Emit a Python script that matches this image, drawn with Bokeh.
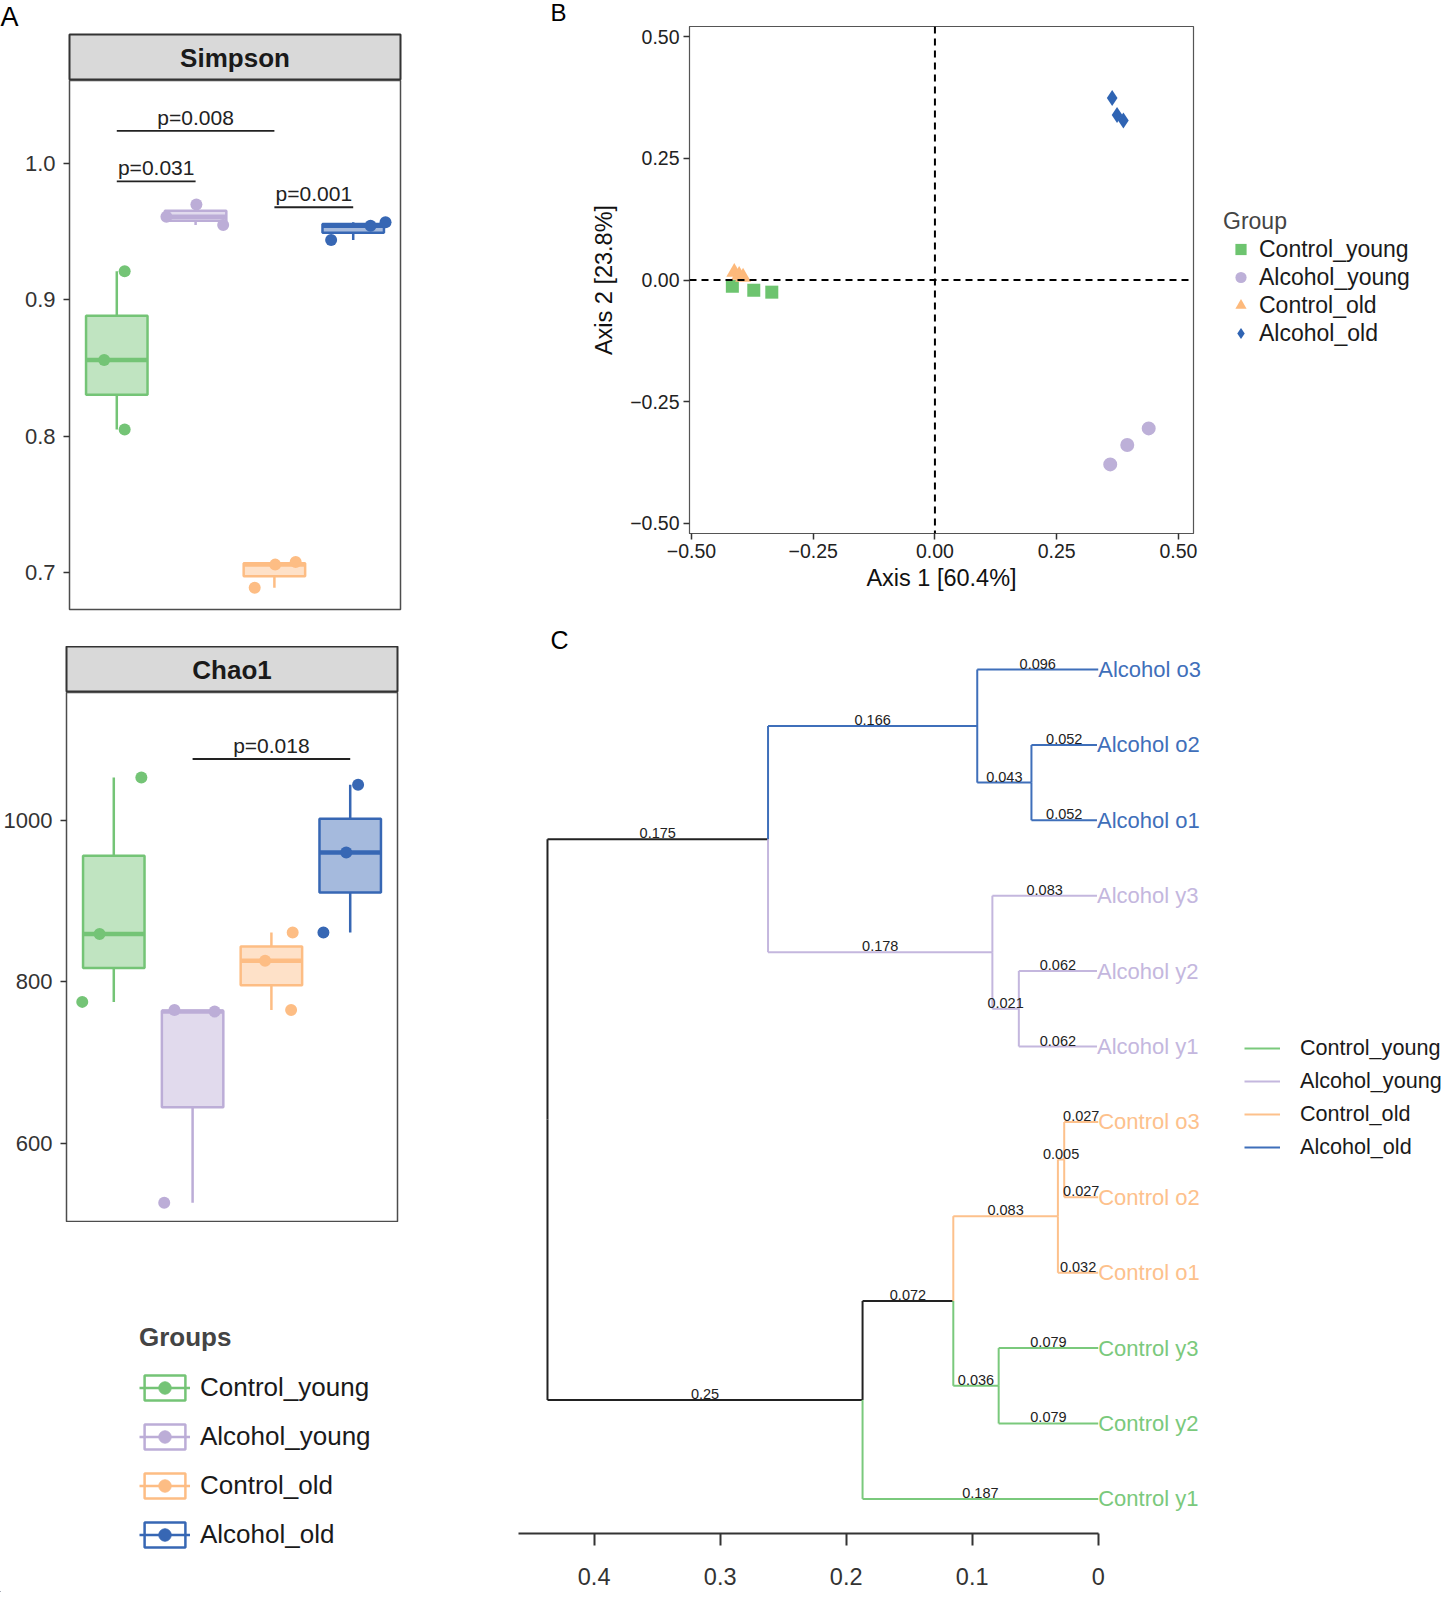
import numpy as np
from bokeh.plotting import figure
from bokeh.layouts import column, row
from bokeh.models import (Range1d, FixedTicker, Span, Label, Legend, LegendItem,
                          ColumnDataSource, Title)
from bokeh.core.properties import value
from bokeh.embed import file_html
from bokeh.resources import INLINE

# ---------------- data ----------------
groups = ["Control_young", "Alcohol_young", "Control_old", "Alcohol_old"]
box_colors = ["#74C476", "#BCADD7", "#FDBD84", "#3767B4"]
pcoa_colors = ["#6DC46F", "#BDB0D8", "#FDB97B", "#2F64B3"]
tree_colors = ["#7AC97C", "#C4B7DE", "#FDC18C", "#3F6FBA"]

simpson_values = [[0.921, 0.856, 0.805], [0.970, 0.961, 0.955],
                  [0.706, 0.708, 0.689], [0.9545, 0.957, 0.944]]
simpson_jitter = [[0.10, -0.16, 0.10], [0.01, -0.37, 0.35],
                  [0.01, 0.27, -0.25], [0.22, 0.41, -0.28]]
simpson_ticks = [0.7, 0.8, 0.9, 1.0]
simpson_tick_labels = ["0.7", "0.8", "0.9", "1.0"]
simpson_pair_start = [1, 1, 3]
simpson_pair_end = [3, 2, 4]
simpson_pair_y = [1.024, 0.987, 0.968]
simpson_pair_labels = ["p=0.008", "p=0.031", "p=0.001"]

chao1_values = [[1053, 859, 775], [765, 763, 526], [861, 826, 765], [1044, 960, 861]]
chao1_jitter = [[0.35, -0.18, -0.40], [-0.23, 0.28, -0.36],
                [0.27, -0.08, 0.25], [0.10, -0.05, -0.34]]
chao1_ticks = [600, 800, 1000]
chao1_tick_labels = ["600", "800", "1000"]
chao1_pair_start = [2]
chao1_pair_end = [4]
chao1_pair_y = [1076]
chao1_pair_labels = ["p=0.018"]

pcoa_axis1 = [[-0.416, -0.372, -0.335], [0.360, 0.395, 0.439],
              [-0.412, -0.402, -0.394], [0.364, 0.374, 0.387]]
pcoa_axis2 = [[-0.013, -0.021, -0.025], [-0.379, -0.339, -0.305],
              [0.016, 0.010, 0.006], [0.374, 0.339, 0.328]]
pcoa_ticks = [-0.5, -0.25, 0.0, 0.25, 0.5]
pcoa_tick_labels = ["\u22120.50", "\u22120.25", "0.00", "0.25", "0.50"]
pcoa_markers = ["square", "circle", "triangle", "diamond"]

tip_labels = ["Alcohol o3", "Alcohol o2", "Alcohol o1", "Alcohol y3", "Alcohol y2", "Alcohol y1",
              "Control o3", "Control o2", "Control o1", "Control y3", "Control y2", "Control y1"]
tip_groups = [3, 3, 3, 1, 1, 1, 2, 2, 2, 0, 0, 0]
edge_parent = ["root", "root", "nA", "nA", "nAo", "nAo", "nAo12", "nAo12", "nAy", "nAy",
               "nAy12", "nAy12", "nC", "nC", "nCx", "nCx", "nCo", "nCo", "nCo23", "nCo23",
               "nCy", "nCy"]
edge_child = ["nA", "nC", "nAo", "nAy", "Alcohol o3", "nAo12", "Alcohol o2", "Alcohol o1",
              "Alcohol y3", "nAy12", "Alcohol y2", "Alcohol y1", "nCx", "Control y1", "nCo",
              "nCy", "nCo23", "Control o1", "Control o3", "Control o2", "Control y3", "Control y2"]
edge_length = [0.175, 0.25, 0.166, 0.178, 0.096, 0.043, 0.052, 0.052, 0.083, 0.021,
               0.062, 0.062, 0.072, 0.187, 0.083, 0.036, 0.005, 0.032, 0.027, 0.027,
               0.079, 0.079]
tree_ticks = [0.0, 0.1, 0.2, 0.3, 0.4]
tree_tick_labels = ["0", "0.1", "0.2", "0.3", "0.4"]

# ---------------- styling constants ----------------
SANS = "Liberation Sans"
LETTER = "Liberation Sans"
LEFT_W = 445
FRAME_W = 331


def base_fig(fw, fh, l, r, t, b, **kw):
    p = figure(title=None, toolbar_location=None, output_backend="svg",
               frame_width=fw, frame_height=fh, min_border_left=l, min_border_right=r,
               min_border_top=t, min_border_bottom=b, **kw)
    p.frame_align = False
    p.grid.visible = False
    return p


def add_letter(p, letter, offset, size="25px", standoff=0):
    p.add_layout(Title(text=letter, align="left", offset=offset, text_font=LETTER,
                       text_font_size=size, text_font_style="normal", text_color="black",
                       vertical_align="top", standoff=standoff), "above")


def strip_fig(text, left, height, top):
    s = base_fig(FRAME_W, height, left, LEFT_W - left - FRAME_W, top, 0,
                 x_range=Range1d(0, 1), y_range=Range1d(0, 1),
                 x_axis_location=None, y_axis_location=None)
    s.background_fill_color = "#D9D9D9"
    s.outline_line_color = "#333333"
    s.outline_line_width = 2
    s.text(x=[0.5], y=[0.5], text=[text], text_align="center", text_baseline="middle",
           text_font=value(SANS), text_font_style="bold", text_font_size="26px",
           text_color="#1A1A1A")
    return s


def box_fig(vals_list, jit_list, yr, ticks, tick_labels, left, fh, bottom,
            pa_s, pa_e, pa_y, pa_lab):
    p = base_fig(FRAME_W, fh, left, LEFT_W - left - FRAME_W, 0, bottom,
                 x_range=Range1d(0.4, 4.6), y_range=Range1d(*yr), x_axis_location=None)
    p.outline_line_color = "#4D4D4D"
    p.outline_line_width = 1.5
    ax = p.yaxis[0]
    ax.ticker = FixedTicker(ticks=ticks)
    ax.major_label_overrides = dict(zip(ticks, tick_labels))
    ax.major_label_text_font = SANS
    ax.major_label_text_font_size = "22px"
    ax.major_label_text_color = "#333333"
    ax.major_tick_out = 6
    ax.major_tick_in = 0
    ax.major_tick_line_color = "#333333"
    ax.major_tick_line_width = 1.5
    ax.minor_tick_line_color = None
    ax.axis_line_color = None
    ax.major_label_standoff = 8

    pos, q1s, meds, q3s, los, his = [], [], [], [], [], []
    for i, v in enumerate(vals_list):
        a = np.array(v, dtype=float)
        q1, med, q3 = np.percentile(a, [25, 50, 75])
        iqr = q3 - q1
        pos.append(i + 1)
        q1s.append(q1)
        meds.append(med)
        q3s.append(q3)
        los.append(a[a >= q1 - 1.5 * iqr].min())
        his.append(a[a <= q3 + 1.5 * iqr].max())
    hw = 0.39
    src = ColumnDataSource(dict(x=pos, q1=q1s, med=meds, q3=q3s, lo=los, hi=his,
                                left=[x - hw for x in pos], right=[x + hw for x in pos],
                                color=box_colors))
    p.segment(x0="x", y0="q3", x1="x", y1="hi", line_color="color", line_width=2.5, source=src)
    p.segment(x0="x", y0="q1", x1="x", y1="lo", line_color="color", line_width=2.5, source=src)
    p.quad(left="left", right="right", bottom="q1", top="q3", fill_color="color",
           fill_alpha=0.45, line_color="color", line_width=2.5, source=src)
    p.segment(x0="left", y0="med", x1="right", y1="med", line_color="color", line_width=4.5,
              source=src)

    px, py, pcol = [], [], []
    for i, (v, j) in enumerate(zip(vals_list, jit_list)):
        for vv, jj in zip(v, j):
            px.append(i + 1 + jj)
            py.append(vv)
            pcol.append(box_colors[i])
    p.scatter(x=px, y=py, size=12, color=pcol, line_color=None)

    p.segment(x0=pa_s, y0=pa_y, x1=pa_e, y1=pa_y, line_color="#222222", line_width=1.8)
    p.text(x=[(a + b) / 2 for a, b in zip(pa_s, pa_e)], y=pa_y, text=pa_lab,
           text_align="center", text_baseline="bottom", y_offset=-2,
           text_font=value(SANS), text_font_size="21px", text_color="#222222")
    return p


# ---------------- panel A ----------------
s_strip = strip_fig("Simpson", 69, 46, 34)
add_letter(s_strip, "A", -69, size="27px", standoff=1)
s_plot = box_fig(simpson_values, simpson_jitter, (0.6731, 1.0609), simpson_ticks,
                 simpson_tick_labels, 69, 529, 37, simpson_pair_start, simpson_pair_end,
                 simpson_pair_y, simpson_pair_labels)
c_strip = strip_fig("Chao1", 66, 46, 0)
c_plot = box_fig(chao1_values, chao1_jitter, (501.6, 1158.4), chao1_ticks, chao1_tick_labels,
                 66, 530, 0, chao1_pair_start, chao1_pair_end, chao1_pair_y, chao1_pair_labels)

lf = base_fig(LEFT_W, 370, 0, 0, 0, 0, x_range=Range1d(0, 1), y_range=Range1d(0, 1),
              x_axis_location=None, y_axis_location=None)
lf.outline_line_color = None
a_items = []
for i, g in enumerate(groups):
    # legend keys only: placed outside the visible range
    r1 = lf.vbar(x=[-1], top=[-1], bottom=[-2], width=0.1, fill_color="white",
                 line_color=box_colors[i], line_width=2.5)
    r2 = lf.segment(x0=[-1], y0=[-1], x1=[-2], y1=[-1], line_color=box_colors[i],
                    line_width=2.5)
    r3 = lf.scatter(x=[-1], y=[-1], size=8, color=box_colors[i])
    a_items.append(LegendItem(label=g, renderers=[r1, r2, r3]))
a_leg = Legend(items=a_items, title="Groups", location=(139, 42), glyph_width=51,
               glyph_height=31, label_height=31, spacing=18, padding=0, margin=0,
               label_standoff=10, label_text_font=SANS, label_text_font_size="26px",
               label_text_color="#1A1A1A", title_text_font=SANS, title_text_font_size="26px",
               title_text_font_style="bold", title_standoff=19, border_line_color=None,
               background_fill_alpha=0)
lf.add_layout(a_leg)

# ---------------- panel B ----------------
pb = base_fig(504, 507, 244, 252, 26, 80, x_range=Range1d(-0.504, 0.531),
              y_range=Range1d(-0.521, 0.521))
pb.outline_line_color = "#555555"
pb.outline_line_width = 1.2
for ax in (pb.xaxis[0], pb.yaxis[0]):
    ax.ticker = FixedTicker(ticks=pcoa_ticks)
    ax.major_label_overrides = dict(zip(pcoa_ticks, pcoa_tick_labels))
    ax.major_label_text_font = SANS
    ax.major_label_text_font_size = "19.5px"
    ax.major_label_text_color = "#222222"
    ax.major_tick_out = 6
    ax.major_tick_in = 0
    ax.major_tick_line_color = "#333333"
    ax.major_tick_line_width = 1.5
    ax.minor_tick_line_color = None
    ax.axis_line_color = "#555555"
    ax.major_label_standoff = 4
    ax.axis_label_text_font = SANS
    ax.axis_label_text_font_size = "23.5px"
    ax.axis_label_text_font_style = "normal"
    ax.axis_label_text_color = "#111111"
pb.xaxis[0].axis_label = "Axis 1 [60.4%]"
pb.xaxis[0].axis_label_standoff = 4
pb.yaxis[0].axis_label = "Axis 2 [23.8%]"
pb.yaxis[0].axis_label_standoff = 10
pb.add_layout(Span(location=0, dimension="height", line_color="black", line_width=2,
                   line_dash="7 5"))
pb.add_layout(Span(location=0, dimension="width", line_color="black", line_width=2,
                   line_dash="7 5"))
b_sizes = [13, 14, 16, 16]
b_items = []
for i, g in enumerate(groups):
    r = pb.scatter(x=pcoa_axis1[i], y=pcoa_axis2[i], marker=pcoa_markers[i], size=b_sizes[i],
                   color=pcoa_colors[i], line_color=None)
    b_items.append(LegendItem(label=g, renderers=[r]))
b_leg = Legend(items=b_items, title="Group", location=(30, 186), glyph_width=35,
               glyph_height=28, label_height=28, spacing=0, padding=0, margin=0,
               label_standoff=1, label_text_font=SANS, label_text_font_size="23px",
               label_text_color="#1A1A1A", title_text_font=SANS, title_text_font_size="23px",
               title_text_font_style="normal", title_standoff=0, border_line_color=None,
               background_fill_alpha=0)
pb.add_layout(b_leg, "right")
add_letter(pb, "B", -139, size="24px", standoff=-3)

# ---------------- panel C ----------------
depth = {"root": 0.0}
children = {}
for pa, ch, ln in zip(edge_parent, edge_child, edge_length):
    depth[ch] = depth[pa] + ln
    children.setdefault(pa, []).append(ch)
total = max(depth[t] for t in tip_labels)
xpos = {n: total - d for n, d in depth.items()}
ypos = {t: len(tip_labels) - i for i, t in enumerate(tip_labels)}
tip_group_of = dict(zip(tip_labels, tip_groups))


def get_y(n):
    if n not in ypos:
        ypos[n] = float(np.mean([get_y(c) for c in children[n]]))
    return ypos[n]


def clade(n):
    if n in tip_group_of:
        return {tip_group_of[n]}
    out = set()
    for c in children[n]:
        out |= clade(c)
    return out


get_y("root")
seg = {k: ([], [], [], []) for k in range(5)}
bl_x, bl_y, bl_t = [], [], []
for pa, ch, ln in zip(edge_parent, edge_child, edge_length):
    cg = clade(ch)
    k = list(cg)[0] if len(cg) == 1 else 4
    x0, y0, x1, y1 = seg[k]
    x0 += [xpos[pa], xpos[pa]]
    y0 += [ypos[pa], ypos[ch]]
    x1 += [xpos[pa], xpos[ch]]
    y1 += [ypos[ch], ypos[ch]]
    bl_x.append((xpos[pa] + xpos[ch]) / 2)
    bl_y.append(ypos[ch])
    bl_t.append(f"{ln:g}")

pc = base_fig(704, 920, 73, 223, 0, 60, x_range=Range1d(0.46, -0.0986),
              y_range=Range1d(0.541, 12.743), y_axis_location=None)
pc.outline_line_color = None
seg_r = {}
for k in [4, 0, 1, 2, 3]:
    x0, y0, x1, y1 = seg[k]
    seg_r[k] = pc.segment(x0=x0, y0=y0, x1=x1, y1=y1,
                          line_color=(tree_colors[k] if k < 4 else "#222222"), line_width=2)
pc.text(x=bl_x, y=bl_y, text=bl_t, text_align="center", text_baseline="bottom", y_offset=-1,
        text_font=value(SANS), text_font_size="14.5px", text_color="#222222")
pc.text(x=[xpos[t] for t in tip_labels], y=[ypos[t] for t in tip_labels], text=tip_labels,
        text_color=[tree_colors[g] for g in tip_groups], text_align="left",
        text_baseline="middle", text_font=value(SANS), text_font_size="22px")
cax = pc.xaxis[0]
cax.ticker = FixedTicker(ticks=tree_ticks)
cax.major_label_overrides = dict(zip(tree_ticks, tree_tick_labels))
cax.bounds = (0, 0.46)
cax.axis_line_color = "#333333"
cax.axis_line_width = 2
cax.major_tick_out = 12
cax.major_tick_in = 0
cax.major_tick_line_color = "#333333"
cax.major_tick_line_width = 2
cax.minor_tick_line_color = None
cax.major_label_text_font = SANS
cax.major_label_text_font_size = "23.5px"
cax.major_label_text_color = "#333333"
cax.major_label_standoff = 22
c_items = [LegendItem(label=g, renderers=[seg_r[i]]) for i, g in enumerate(groups)]
c_leg = Legend(items=c_items, location=(22, 373), glyph_width=36, glyph_height=20,
               label_height=20, spacing=7, padding=0, margin=0, label_standoff=20,
               label_text_font=SANS, label_text_font_size="21.6px",
               label_text_color="#1A1A1A", border_line_color=None, background_fill_alpha=0)
pc.add_layout(c_leg, "right")
pc.add_layout(Label(x=32, y=894, x_units="screen", y_units="screen", text="C",
                    text_font=LETTER, text_font_size="25px", text_color="black",
                    text_baseline="alphabetic"))

layout = row(column(s_strip, s_plot, c_strip, c_plot, lf), column(pb, pc))
open("out.html", "w").write(file_html(layout, INLINE))
